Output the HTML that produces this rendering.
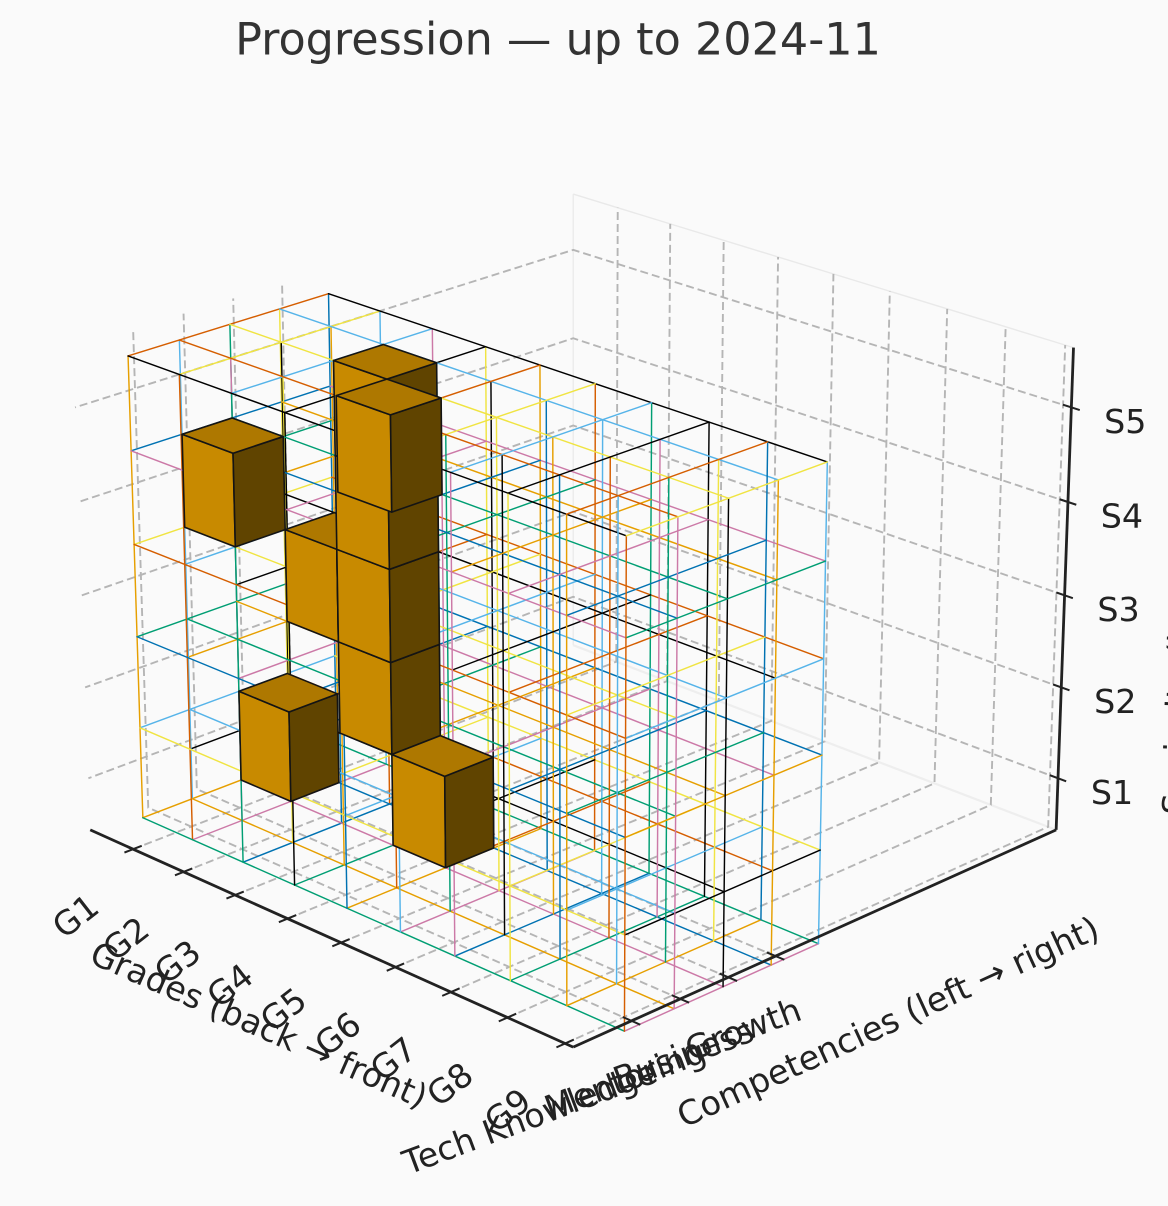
<!DOCTYPE html>
<html lang="en">
<head>
<meta charset="utf-8">
<title>Progression — up to 2024-11</title>
<style>
html,body{margin:0;padding:0;background:#fafafa;width:1168px;height:1206px;overflow:hidden}
svg{display:block;font-family:"DejaVu Sans","Liberation Sans",sans-serif}
</style>
</head>
<body>
<svg id="chart" xmlns="http://www.w3.org/2000/svg" width="1168" height="1206" viewBox="0 0 1168 1206">
  <rect x="0" y="0" width="1168" height="1206" fill="#fafafa"/>
  <text x="558" y="54.5" font-size="44.5" fill="#333333" text-anchor="middle">Progression — up to 2024-11</text>
  <g id="panes"></g>
  <g id="grid"></g>
  <g id="wires"></g>
  <g id="axes"></g>
  <g id="cubes"></g>
  <g id="labels"></g>
  <text font-size="33.4" fill="#222222" text-anchor="middle" dominant-baseline="central" transform="translate(259 1025) rotate(23.8)">Grades (back → front)</text>
  <text font-size="33.6" fill="#222222" text-anchor="middle" dominant-baseline="central" transform="translate(888 1022) rotate(-24.6)">Competencies (left → right)</text>
  <text font-size="33.3" fill="#222222" text-anchor="start" transform="translate(1186 815) rotate(-88)">Seniority (junior → senior)</text>
</svg>
<script>
// ---- chart data ----
const gradeLabels = ["G1","G2","G3","G4","G5","G6","G7","G8","G9"];
const competencyLabels = ["Tech Knowledge","Mentoring","Business","Growth"];
const seniorityLabels = ["S1","S2","S3","S4","S5"];
// progression cubes: grade index, competency index, seniority index
const cubeGrade      = [0,0,1,2,2,2,2,3,3];
const cubeCompetency = [2,1,2,2,2,2,2,2,1];
const cubeLevel      = [0,3,2,1,2,3,4,0,4];
const palette = ["#000000","#E69F00","#56B4E9","#009E73","#F0E442","#0072B2","#D55E00","#CC79A7"];

// ---- projection (perspective camera, elevation 22, corner-on view) ----
const elev = 22 * Math.PI / 180, dist = 10, K = 552, xStretch = 1.0025, cx = 573.2, cy = 593;
const half = [0.628, 0.628, 0.471];
const xLim = [0.138, 9.138], yLim = [-1.17, 9.09], zLim = [0.15, 5.31];
function norm(val, lim, h){ return (val - (lim[0] + lim[1]) / 2) / (lim[1] - lim[0]) * 2 * h; }
function project(u, v, w){
  const a = norm(u, xLim, half[0]), b = norm(v, yLim, half[1]), c = norm(w, zLim, half[2]);
  const X = (a + b) / Math.SQRT2, d = (a - b) / Math.SQRT2;
  const Y = c * Math.cos(elev) - d * Math.sin(elev);
  const Z = c * Math.sin(elev) + d * Math.cos(elev);
  const s = K / (1 - Z / dist);
  return [cx + X * s * xStretch, cy - Y * s, Z];
}
const NS = "http://www.w3.org/2000/svg";
function make(tag, parent){ const el = document.createElementNS(NS, tag); parent.appendChild(el); return el; }
function pathOf(points, closed){
  return points.map((p, i) => {
    const q = project(p[0], p[1], p[2]);
    return (i ? "L" : "M") + q[0].toFixed(2) + " " + q[1].toFixed(2);
  }).join(" ") + (closed ? " Z" : "");
}
function stroke(el, color, width, dash){
  el.setAttribute("fill", "none");
  el.setAttribute("stroke", color);
  el.setAttribute("stroke-width", width);
  if (dash) el.setAttribute("stroke-dasharray", dash);
}
const panes = document.getElementById("panes"), grid = document.getElementById("grid"),
      wires = document.getElementById("wires"), axes = document.getElementById("axes"),
      cubes = document.getElementById("cubes"), labels = document.getElementById("labels");

// ---- pane edges ----
[[[xLim[0],yLim[1],zLim[1]],[xLim[1],yLim[1],zLim[1]],1.4,"#e9e9e9"],
 [[xLim[0],yLim[1],zLim[0]],[xLim[0],yLim[1],zLim[1]],1.2,"#e9e9e9"],
 [[xLim[0],yLim[1],zLim[0]],[xLim[1],yLim[1],zLim[0]],2.2,"#eeeeee"]].forEach(e => {
  const el = make("path", panes);
  
  
  el.setAttribute("d", pathOf([e[0], e[1]]));
  stroke(el, e[3], e[2]);
});

// ---- axis tick positions in data units ----
const xTick = i => i + 1;
const yTick = i => i * 0.98 - 0.02;
const zTick = i => i * 0.9925 + 0.72;
const gridColor = "#b5b5b5", gridWidth = 1.9, gridDash = "8 4";

gradeLabels.forEach((g, i) => {
  const el = make("path", grid);
  
  
  el.setAttribute("d", pathOf([[xTick(i),yLim[0],zLim[0]],[xTick(i),yLim[1],zLim[0]],[xTick(i),yLim[1],zLim[1]]]));
  stroke(el, gridColor, gridWidth, gridDash);
});
competencyLabels.forEach((g, i) => {
  const el = make("path", grid);
  
  
  el.setAttribute("d", pathOf([[xLim[1],yTick(i),zLim[0]],[xLim[0],yTick(i),zLim[0]],[xLim[0],yTick(i),zLim[1]]]));
  stroke(el, gridColor, gridWidth, gridDash);
});
seniorityLabels.forEach((g, i) => {
  const el = make("path", grid);
  
  
  el.setAttribute("d", pathOf([[xLim[1],yLim[1],zTick(i)],[xLim[0],yLim[1],zTick(i)],[xLim[0],yLim[0],zTick(i)]]));
  stroke(el, gridColor, gridWidth, gridDash);
});

// ---- wireframe lattice: colour cycle runs verticals, then grade lines, then competency lines ----
const nU = gradeLabels.length, nV = competencyLabels.length, nZ = seniorityLabels.length;
const wireLines = [];
let colorIndex = 1;
for (let i = 0; i <= nU; i++) for (let j = 0; j <= nV; j++) {
  wireLines.push({a:[i,j,0], b:[i,j,nZ], c:palette[colorIndex++ % 8]});
}
for (let j = 0; j <= nV; j++) for (let k = 0; k <= nZ; k++) {
  wireLines.push({a:[0,j,k], b:[nU,j,k], c:palette[colorIndex++ % 8]});
}
for (let i = 0; i <= nU; i++) for (let k = 0; k <= nZ; k++) {
  wireLines.push({a:[i,0,k], b:[i,nV,k], c:palette[colorIndex++ % 8]});
}
wireLines.sort((p, q) => {
  const zp = project(p.a[0],p.a[1],p.a[2])[2] + project(p.b[0],p.b[1],p.b[2])[2];
  const zq = project(q.a[0],q.a[1],q.a[2])[2] + project(q.b[0],q.b[1],q.b[2])[2];
  return zp - zq;
});
wireLines.forEach(l => {
  const el = make("path", wires);
  
  
  el.setAttribute("d", pathOf([l.a, l.b]));
  stroke(el, l.c, 1.45);
  el.setAttribute("stroke-linecap", "round");
});

// ---- spines and ticks ----
[[[xLim[0],yLim[0],zLim[0]],[xLim[1],yLim[0],zLim[0]],"x-axis-line"],
 [[xLim[1],yLim[0],zLim[0]],[xLim[1],yLim[1],zLim[0]],"y-axis-line"],
 [[xLim[1],yLim[1],zLim[0]],[xLim[1],yLim[1],zLim[1]],"z-axis-line"]].forEach(s => {
  const el = make("path", axes);
  
  
  el.setAttribute("d", pathOf([s[0], s[1]]));
  stroke(el, "#222222", 2.8);
});
gradeLabels.forEach((g, i) => {
  const el = make("path", axes);
  
  
  el.setAttribute("d", pathOf([[xTick(i),yLim[0]-0.17,zLim[0]],[xTick(i),yLim[0]+0.17,zLim[0]]]));
  stroke(el, "#222222", 2);
  const p = project(xTick(i), yLim[0], zLim[0]);
  const t = make("text", labels);
  
  
  t.setAttribute("font-size", "33.3");
  t.setAttribute("fill", "#222222");
  t.setAttribute("text-anchor", "middle");
  t.setAttribute("dominant-baseline", "central");
  t.setAttribute("transform", "translate(" + (p[0]-57.5).toFixed(1) + " " + (p[1]+67).toFixed(1) + ") rotate(-38)");
  t.textContent = g;
});
competencyLabels.forEach((g, i) => {
  const el = make("path", axes);
  
  
  el.setAttribute("d", pathOf([[xLim[1]-0.15,yTick(i),zLim[0]],[xLim[1]+0.15,yTick(i),zLim[0]]]));
  stroke(el, "#222222", 2);
  const p = project(xLim[1], yTick(i), zLim[0]);
  const t = make("text", labels);
  
  
  t.setAttribute("font-size", "33.3");
  t.setAttribute("fill", "#222222");
  t.setAttribute("text-anchor", "end");
  t.textContent = g;
  const extra = t.getComputedTextLength() - 121;
  t.setAttribute("transform", "translate(" + (p[0] + 28).toFixed(1) + " " + (p[1] + 63 - 0.02 * extra).toFixed(1) + ") rotate(-20.5)");
});
seniorityLabels.forEach((g, i) => {
  const el = make("path", axes);
  
  
  el.setAttribute("d", pathOf([[xLim[1]-0.14,yLim[1],zTick(i)],[xLim[1]+0.14,yLim[1],zTick(i)]]));
  stroke(el, "#222222", 2);
  const p = project(xLim[1], yLim[1], zTick(i));
  const t = make("text", labels);
  
  
  t.setAttribute("font-size", "33.3");
  t.setAttribute("fill", "#222222");
  t.setAttribute("text-anchor", "middle");
  t.setAttribute("dominant-baseline", "central");
  t.setAttribute("x", (p[0]+54).toFixed(1));
  t.setAttribute("y", (p[1]+14).toFixed(1));
  t.textContent = g;
});

// ---- progression cubes, painted back to front ----
const order = cubeGrade.map((g, i) => i).sort((a, b) => {
  const da = cubeGrade[a] - cubeCompetency[a], db = cubeGrade[b] - cubeCompetency[b];
  return da - db || cubeLevel[a] - cubeLevel[b];
});
order.forEach(n => {
  const u = cubeGrade[n], v = cubeCompetency[n], z = cubeLevel[n];
  const g = make("g", cubes);
  
  
  const faces = [
    {pts:[[u,v,z],[u+1,v,z],[u+1,v,z+1],[u,v,z+1]], fill:"#c88a00"},
    {pts:[[u+1,v,z],[u+1,v+1,z],[u+1,v+1,z+1],[u+1,v,z+1]], fill:"#604400"},
    {pts:[[u,v,z+1],[u+1,v,z+1],[u+1,v+1,z+1],[u,v+1,z+1]], fill:"#ae7800"}
  ];
  faces.forEach(f => {
    const el = make("path", g);
    
    
    el.setAttribute("d", pathOf(f.pts, true));
    el.setAttribute("fill", f.fill);
    el.setAttribute("stroke", "#141414");
    el.setAttribute("stroke-width", "1.6");
    el.setAttribute("stroke-linejoin", "round");
  });
});
</script>
</body>
</html>
